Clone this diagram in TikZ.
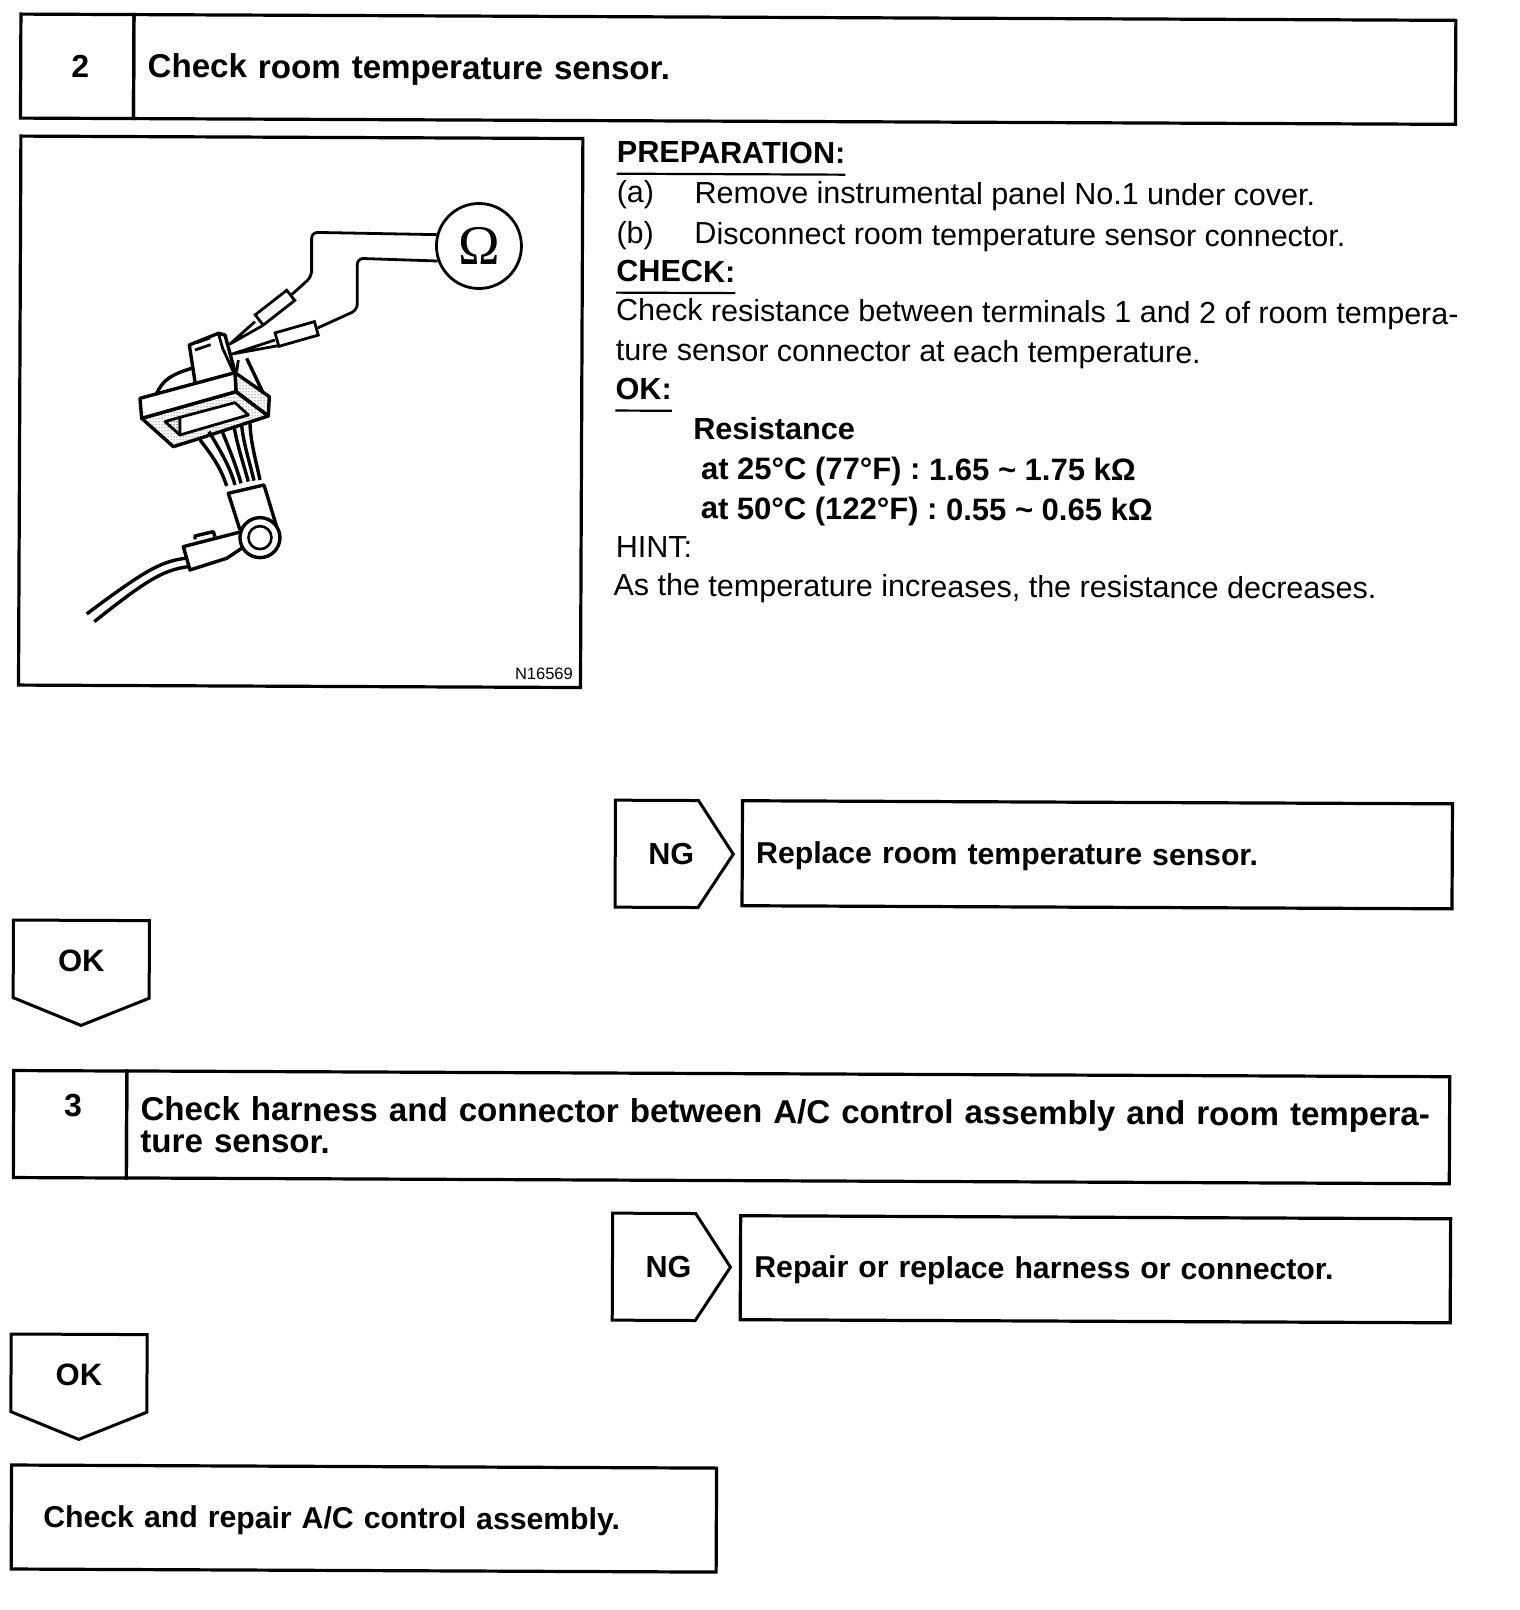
\documentclass[tikz,border=0pt]{standalone}
\usepackage{fontspec}
\setmainfont{Liberation Sans}
\newfontfamily\ohmfont{Liberation Serif}
\usetikzlibrary{positioning, shapes.symbols, patterns}
\tikzset{
  boxbase/.style={rectangle, draw=black, line width=3.2pt, outer sep=0pt, inner ysep=0pt},
  numbox/.style={boxbase, align=center, inner xsep=0pt, font=\fontsize{32}{35}\selectfont\bfseries},
  titlebox/.style={boxbase, align=left, inner xsep=14pt, font=\fontsize{33.1}{32}\selectfont\bfseries},
  replybox/.style={boxbase, align=left, inner xsep=14pt, font=\fontsize{30.2}{33}\selectfont\bfseries},
  ngflag/.style={signal, signal to=east, draw=black, line width=3pt, outer sep=0pt, inner sep=0pt, minimum width=118pt, minimum height=107pt, signal pointer angle=113.6, font=\fontsize{30.5}{35}\selectfont\bfseries},
  okflag/.style={signal, signal to=south, draw=black, line width=3pt, outer sep=0pt, inner sep=0pt, minimum width=136pt, minimum height=87pt, signal pointer angle=136, font=\fontsize{31}{35}\selectfont\bfseries},
  bodytext/.style={inner sep=0pt, anchor=base west, font=\fontsize{30.5}{36}\selectfont},
  boldtext/.style={inner sep=0pt, anchor=base west, font=\fontsize{30.6}{36}\selectfont\bfseries},
  rulerline/.style={line width=2.2pt},
  heavy/.style={line width=3.4pt, line join=round},
  wire/.style={line width=2.8pt, line join=round},
  handlebox/.style={rectangle, draw=black, line width=2.8pt, fill=white, inner sep=0pt},
}
\begin{document}
\begin{tikzpicture}[x=1pt, y=-1pt]
\useasboundingbox (0,0) rectangle (1520,1610);
\begin{scope}[rotate=-0.25, transform shape]
  % Step 2
  \node[numbox, minimum width=113pt, minimum height=104pt, text height=23pt, text depth=1pt, anchor=north west] (num2) at (21,14) {\hspace*{6pt}2};
  \node[titlebox, right=0pt of num2, text width=1294pt, minimum height=104pt, text height=23pt, text depth=1pt] (title2) {Check room temperature sensor.};

  % Picture frame
  \node[boxbase, minimum width=562pt, minimum height=549pt, anchor=north west] (frame) at (21.5,136) {};
  \node[inner sep=0pt, anchor=base east, font=\fontsize{16.5}{18}\selectfont] (partno) at (576,677) {N16569};

  % Instructions
  \node[boldtext] (prep) at (617.5,160) {PREPARATION:};
  \node[bodytext, below=40pt of prep.base west, anchor=base west] (itema) {(a)};
  \node[bodytext, below=41pt of itema.base west, anchor=base west] (itemb) {(b)};
  \node[bodytext, right=78pt of itema.base west, anchor=base west] (texta) {Remove instrumental panel No.1 under cover.};
  \node[bodytext, right=78pt of itemb.base west, anchor=base west] (textb) {Disconnect room temperature sensor connector.};
  \node[boldtext, below=38pt of itemb.base west, anchor=base west] (check) {CHECK:};
  \node[bodytext, below=39pt of check.base west, anchor=base west] (line1) {Check resistance between terminals 1 and 2 of room tempera-};
  \node[bodytext, below=40pt of line1.base west, anchor=base west] (line2) {ture sensor connector at each temperature.};
  \node[boldtext, below=39pt of line2.base west, anchor=base west] (okhead) {OK:};
  \node[boldtext] (resist) at (695,436) {Resistance};
  \node[boldtext, font=\fontsize{31}{36}\selectfont\bfseries, below=40pt of resist.base west, anchor=base west, xshift=8pt] (temp1) {at 25°C (77°F) : 1.65 \textasciitilde{} 1.75 kΩ};
  \node[boldtext, font=\fontsize{31}{36}\selectfont\bfseries, below=40pt of temp1.base west, anchor=base west] (temp2) {at 50°C (122°F) : 0.55 \textasciitilde{} 0.65 kΩ};
  \node[bodytext] (hint) at (618,555) {HINT:};
  \node[bodytext, below=38pt of hint.base west, anchor=base west, xshift=-2pt] (hinttext) {As the temperature increases, the resistance decreases.};

  % Underlines
  \draw[rulerline] ([yshift=-11pt]prep.base west) -- ([yshift=-11pt]prep.base east);
  \draw[rulerline] ([yshift=-11pt]check.base west) -- ([yshift=-11pt]check.base east);
  \draw[rulerline] ([yshift=-11pt]okhead.base west) -- ([yshift=-11pt]okhead.base east);

  % First NG branch
  \node[ngflag, text height=23pt, text depth=2pt, anchor=west] (ng1) at (619,851) {\hspace*{29pt}NG};
  \node[replybox, text width=682pt, minimum height=105pt, text height=23pt, text depth=3pt, anchor=north west] (replace) at (746,797.5) {Replace room temperature sensor.};

  % First OK flag
  \node[okflag, text height=27pt, text depth=3pt, anchor=north] (ok1) at (85.5,920) {OK};

  % Step 3
  \node[numbox, minimum width=113pt, minimum height=107pt, text height=23pt, text depth=38pt, anchor=north west] (num3) at (18.5,1070.5) {\hspace*{6pt}3};
  \node[titlebox, right=0pt of num3, text width=1295pt, minimum height=107pt] (title3) {Check harness and connector between A/C control assembly and room tempera-\\ture sensor.};

  % Second NG branch
  \node[ngflag, text height=23pt, text depth=2pt, anchor=west] (ng2) at (618,1264) {\hspace*{29pt}NG};
  \node[replybox, text width=682pt, minimum height=104pt, text height=23pt, text depth=4pt, anchor=north west] (repair) at (746,1212.5) {Repair or replace harness or connector.};

  % Second OK flag
  \node[okflag, text height=27pt, text depth=3pt, anchor=north] (ok2) at (85,1334) {OK};

  % Last box
  \node[replybox, inner xsep=32pt, text width=641pt, minimum height=104pt, text height=23pt, text depth=3pt, anchor=north west] (assembly) at (18,1465) {Check and repair A/C control assembly.};
\end{scope}

% Sensor picture
\begin{scope}[shift={(60,180)}, x=0.3333pt, y=-0.3333pt]
  \node[circle, draw=black, line width=2.8pt, minimum size=85pt, inner sep=0pt, font=\ohmfont\fontsize{56}{56}\selectfont] (ohm) at (1257,198) {Ω};
  \node[handlebox, minimum width=40pt, minimum height=13pt, rotate=38] (handle1) at (645,383) {};
  \node[handlebox, minimum width=41pt, minimum height=14pt, rotate=16] (handle2) at (710,462) {};
  % Test leads
  \draw[wire, rounded corners=6pt] (ohm.165) -- (755,157) -- (755,290) -- (handle1.east);
  \draw[wire, rounded corners=6pt] (ohm.200) -- (892,235) -- (892,390) -- (handle2.east);
  \draw[wire] (585,425) -- (510,492) -- (606,438);
  \draw[wire] (645,480) -- (517,522) -- (655,497);
  % Grip and side wings
  \draw[heavy, fill=white] (405,605) -- (388,495) -- (475,460) -- (495,465) -- (525,575);
  \draw[wire] (475,460) -- (488,505) -- (520,575);
  \draw[wire] (410,488) -- (450,474) (405,510) -- (452,494);
  \draw[heavy] (290,640) .. controls (310,600) and (330,585) .. (395,565);
  \draw[heavy] (560,535) -- (610,640);
  \draw[wire] (535,540) -- (530,575);
  % Connector body
  \draw[heavy, pattern=dots] (245,715) -- (528,635) -- (625,708) -- (420,775) -- (340,800) -- cycle;
  \draw[heavy, pattern=dots] (525,578) -- (628,650) -- (625,708) -- (528,635) -- cycle;
  \draw[heavy, fill=white] (240,655) -- (525,578) -- (528,635) -- (245,715) -- cycle;
  \draw[wire, pattern=dots] (315,725) -- (360,712) -- (360,765) -- cycle;
  \draw[wire, fill=white] (360,712) -- (525,668) -- (565,705) -- (360,765) -- cycle;
  % Loose wires
  \draw[heavy] (420,780) .. controls (460,830) and (485,870) .. (500,918);
  \draw[heavy] (447,755) .. controls (480,810) and (510,860) .. (525,915);
  \draw[heavy] (485,750) .. controls (505,800) and (530,860) .. (543,910);
  \draw[heavy] (522,738) .. controls (530,790) and (550,850) .. (565,905);
  \draw[heavy] (545,735) .. controls (550,790) and (570,850) .. (582,902);
  \draw[heavy] (570,730) .. controls (572,790) and (590,850) .. (600,900);
  % Lower plug
  \draw[heavy] (540,1050) -- (505,940) -- (612,915) -- (650,1040);
  \draw[heavy] (545,1055) -- (370,1100) -- (390,1170) -- (500,1135) -- (545,1105);
  \draw[heavy] (405,1078) -- (405,1068) -- (460,1055) -- (465,1070);
  \draw[heavy] (375,1135) .. controls (300,1145) and (250,1175) .. (80,1302);
  \draw[heavy] (385,1160) .. controls (310,1170) and (260,1200) .. (103,1325);
  \node[circle, draw=black, line width=3.4pt, fill=white, minimum size=40pt, inner sep=0pt] (ring) at (600,1073) {};
  \node[circle, draw=black, line width=2.6pt, minimum size=23pt, inner sep=0pt] (ringhole) at (ring.center) {};
\end{scope}
\end{tikzpicture}
\end{document}
